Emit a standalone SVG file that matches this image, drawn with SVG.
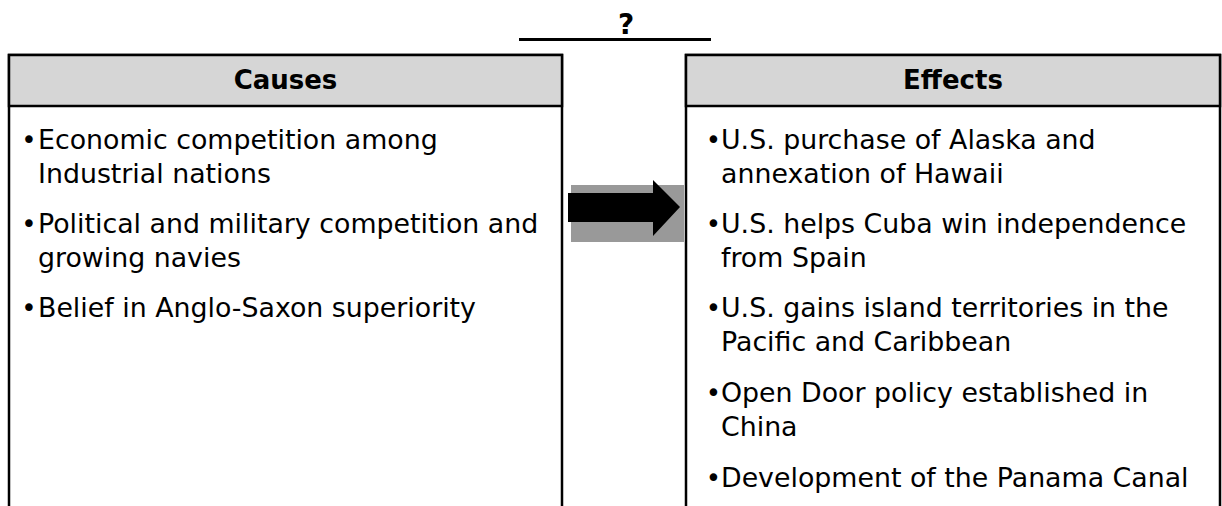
<svg xmlns="http://www.w3.org/2000/svg" width="1222" height="506" viewBox="0 0 1222 506">
<style>
.box{fill:#ffffff;stroke:#000;stroke-width:2.5}
.hdr{fill:#d6d6d6;stroke:#000;stroke-width:2.5}
.ht{font-family:"DejaVu Sans",Verdana,sans-serif;font-weight:bold;font-size:26px;fill:#000;text-anchor:middle}
.q{font-family:"DejaVu Sans",Verdana,sans-serif;font-weight:bold;font-size:28px;fill:#000;text-anchor:middle}
.t{font-family:"DejaVu Sans",Verdana,sans-serif;font-size:26.8px;fill:#000}
.b{font-family:"DejaVu Sans",Verdana,sans-serif;font-size:26px;fill:#000;text-anchor:middle}
</style>
<rect width="1222" height="506" fill="#fff"/>
<g id="title">
<text class="q" x="626" y="34">?</text>
<line x1="519" y1="39.5" x2="711" y2="39.5" stroke="#000" stroke-width="3"/>
</g>
<g id="causes">
<path class="box" d="M9,510 V55 H562 V510"/>
<rect class="hdr" x="9" y="55" width="553" height="51"/>
<text class="ht" x="285.5" y="89">Causes</text>
<text class="b" x="29" y="149">•</text>
<text class="t" x="38" y="149">Economic competition among</text>
<text class="t" x="38" y="183">Industrial nations</text>
<text class="b" x="29" y="233">•</text>
<text class="t" x="38" y="233">Political and military competition and</text>
<text class="t" x="38" y="267">growing navies</text>
<text class="b" x="29" y="317">•</text>
<text class="t" x="38" y="317">Belief in Anglo-Saxon superiority</text>
</g>
<g id="connectors">
<rect x="571" y="185" width="113" height="57" fill="#999999"/>
<polygon points="568,193 653,193 653,180 680,207 653,236 653,222 568,222" fill="#000"/>
</g>
<g id="effects">
<path class="box" d="M686,510 V55 H1220 V510"/>
<rect class="hdr" x="686" y="55" width="534" height="51"/>
<text class="ht" x="953" y="89">Effects</text>
<text class="b" x="713.5" y="149">•</text>
<text class="t" x="721" y="149">U.S. purchase of Alaska and</text>
<text class="t" x="721" y="183">annexation of Hawaii</text>
<text class="b" x="713.5" y="233">•</text>
<text class="t" x="721" y="233">U.S. helps Cuba win independence</text>
<text class="t" x="721" y="267">from Spain</text>
<text class="b" x="713.5" y="317">•</text>
<text class="t" x="721" y="317">U.S. gains island territories in the</text>
<text class="t" x="721" y="351">Pacific and Caribbean</text>
<text class="b" x="713.5" y="401.5">•</text>
<text class="t" x="721" y="401.5">Open Door policy established in</text>
<text class="t" x="721" y="435.5">China</text>
<text class="b" x="713.5" y="486.5">•</text>
<text class="t" x="721" y="486.5">Development of the Panama Canal</text>
</g>
</svg>
